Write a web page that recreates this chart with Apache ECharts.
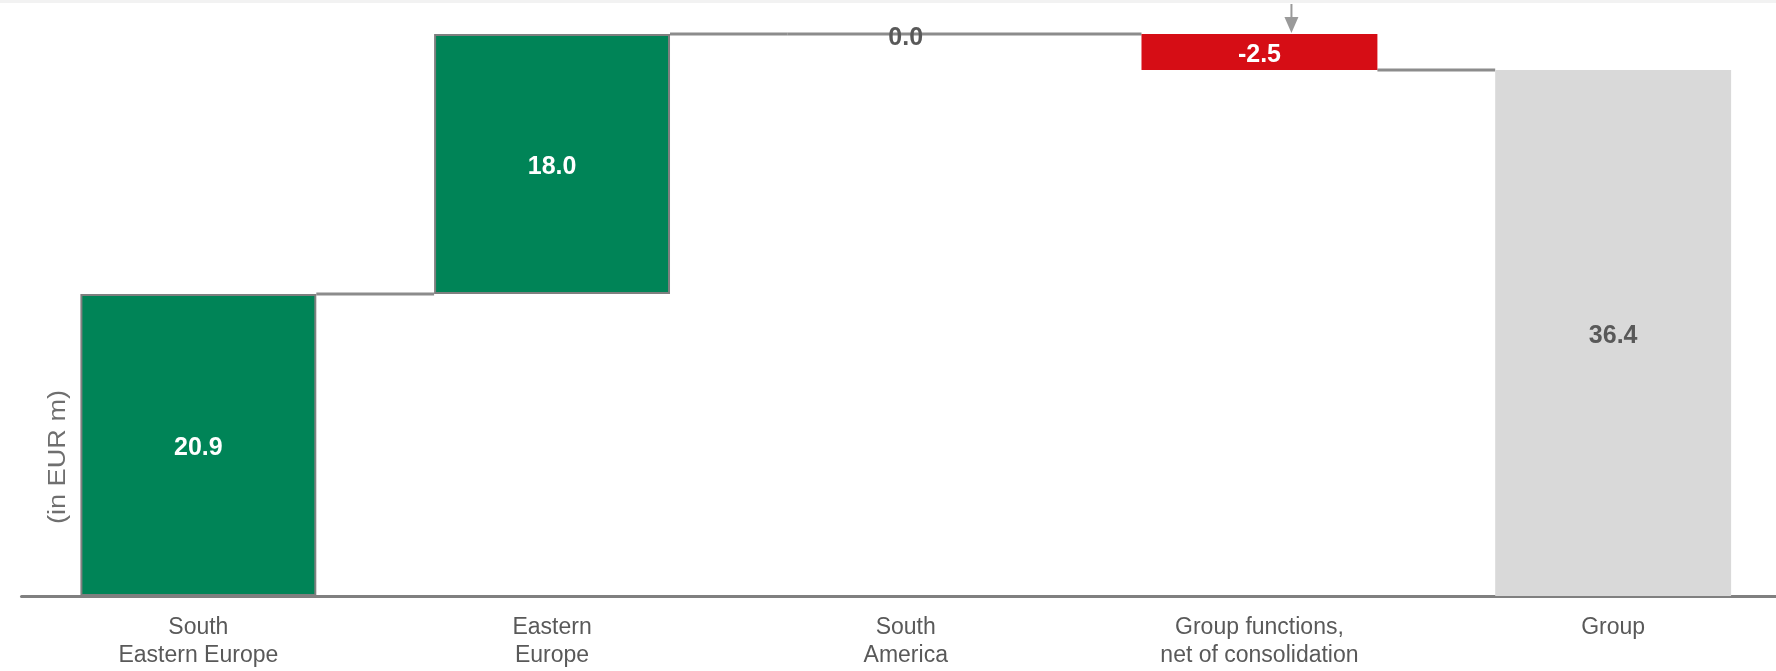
<!DOCTYPE html>
<html>
<head>
<meta charset="utf-8">
<script src="https://cdn.jsdelivr.net/npm/echarts@6/dist/echarts.min.js"></script>
<style>
html,body{margin:0;padding:0;background:#fff;}
#c{width:1776px;height:671px;}
</style>
</head>
<body>
<div id="c"></div>
<script>
const categories = ['South\nEastern Europe', 'Eastern\nEurope', 'South\nAmerica', 'Group functions,\nnet of consolidation', 'Group'];
const values = [20.9, 18.0, 0.0, -2.5, 36.4];
const isTotal = [false, false, false, false, true];
const yAxisTitle = '(in EUR m)';

const GREEN = '#008457', RED = '#d60d15', GREY = '#d9d9d9', DARK = '#595959';

const base = [], height = [], levels = [];
let running = 0;
values.forEach((v, i) => {
  if (isTotal[i]) { base.push(0); height.push(v); running = v; }
  else if (v >= 0) { base.push(running); height.push(v); running += v; }
  else { base.push(running + v); height.push(-v); running += v; }
  levels.push(+running.toFixed(4));
});

const connectors = [];
for (let i = 0; i < values.length - 1; i++) {
  connectors.push([i, levels[i], height[i] === 0 ? 1 : 0]);
}

const BAR_FRAC = 0.667;
const titleStyle = {text: yAxisTitle, fill: '#6f6f6f', font: '23px "Liberation Sans", Arial, sans-serif', align: 'center', verticalAlign: 'middle'};

const chart = echarts.init(document.getElementById('c'), null, {renderer: 'canvas'});
chart.setOption({
  backgroundColor: '#fff',
  animation: false,
  grid: {left: 21.5, width: 1768.5, top: 18, bottom: 75, containLabel: false, outerBoundsMode: 'none'},
  xAxis: {
    type: 'category',
    data: categories,
    axisLine: {show: true, lineStyle: {color: '#808080', width: 3}},
    axisTick: {show: false},
    axisLabel: {
      color: DARK, fontFamily: '"Liberation Sans", Arial, sans-serif',
      fontSize: 23, lineHeight: 28, margin: 18
    }
  },
  yAxis: {type: 'value', min: 0, max: 40, show: false, splitLine: {show: false}},
  series: [
    {
      type: 'custom',
      z: 1,
      encode: {x: 0, y: 1},
      data: connectors,
      renderItem: function (params, api) {
        const i = api.value(0), lvl = api.value(1), startLeft = api.value(2);
        const w = api.size([1, 0])[0] * BAR_FRAC;
        const p0 = api.coord([i, lvl]);
        const p1 = api.coord([i + 1, lvl]);
        const x0 = startLeft ? p0[0] - w / 2 : p0[0] + w / 2;
        const x1 = p1[0] - w / 2;
        return {type: 'line', shape: {x1: x0, y1: p0[1], x2: x1, y2: p0[1]},
                style: {stroke: '#8c8c8c', lineWidth: 3}};
      }
    },
    {
      type: 'bar', stack: 'w', z: 2, barWidth: (BAR_FRAC * 100) + '%',
      data: base,
      itemStyle: {color: 'rgba(0,0,0,0)'},
      silent: true
    },
    {
      type: 'bar', stack: 'w', z: 2, barWidth: (BAR_FRAC * 100) + '%',
      data: height.map((h, i) => {
        const v = values[i];
        let color, border = 'transparent', bw = 0, lc = '#fff';
        if (isTotal[i]) { color = GREY; lc = DARK; }
        else if (v > 0) { color = GREEN; border = '#7f7f7f'; bw = 2; }
        else if (v < 0) { color = RED; }
        else { color = 'rgba(0,0,0,0)'; lc = DARK; }
        return {value: h, itemStyle: {color: color, borderColor: border, borderWidth: bw},
                label: {color: lc, offset: [0, h === 0 ? 4 : 3]}};
      }),
      label: {
        show: true, position: 'inside',
        fontFamily: '"Liberation Sans", Arial, sans-serif', fontWeight: 'bold', fontSize: 25,
        formatter: p => values[p.dataIndex].toFixed(1)
      }
    }
  ]
});

// annotation arrow above the Group functions bar
const gi = 3;
const tip = chart.convertToPixel({xAxisIndex: 0, yAxisIndex: 0}, [gi, base[gi] + height[gi]]);
const ax = tip[0] + 32, ty = tip[1] - 1;
chart.setOption({
  graphic: [
    {type: 'rect', shape: {x: 0, y: 0, width: 1776, height: 3}, style: {fill: '#f2f2f2'}, silent: true},
    {type: 'text', x: 59, y: 457, rotation: Math.PI / 2, scaleX: 1.18, style: titleStyle},
    {type: 'line', shape: {x1: ax, y1: 4, x2: ax, y2: ty - 14}, style: {stroke: '#9a9a9a', lineWidth: 2}},
    {type: 'polygon', shape: {points: [[ax - 7, ty - 16], [ax + 7, ty - 16], [ax, ty]]}, style: {fill: '#9a9a9a'}}
  ]
});
</script>
</body>
</html>
